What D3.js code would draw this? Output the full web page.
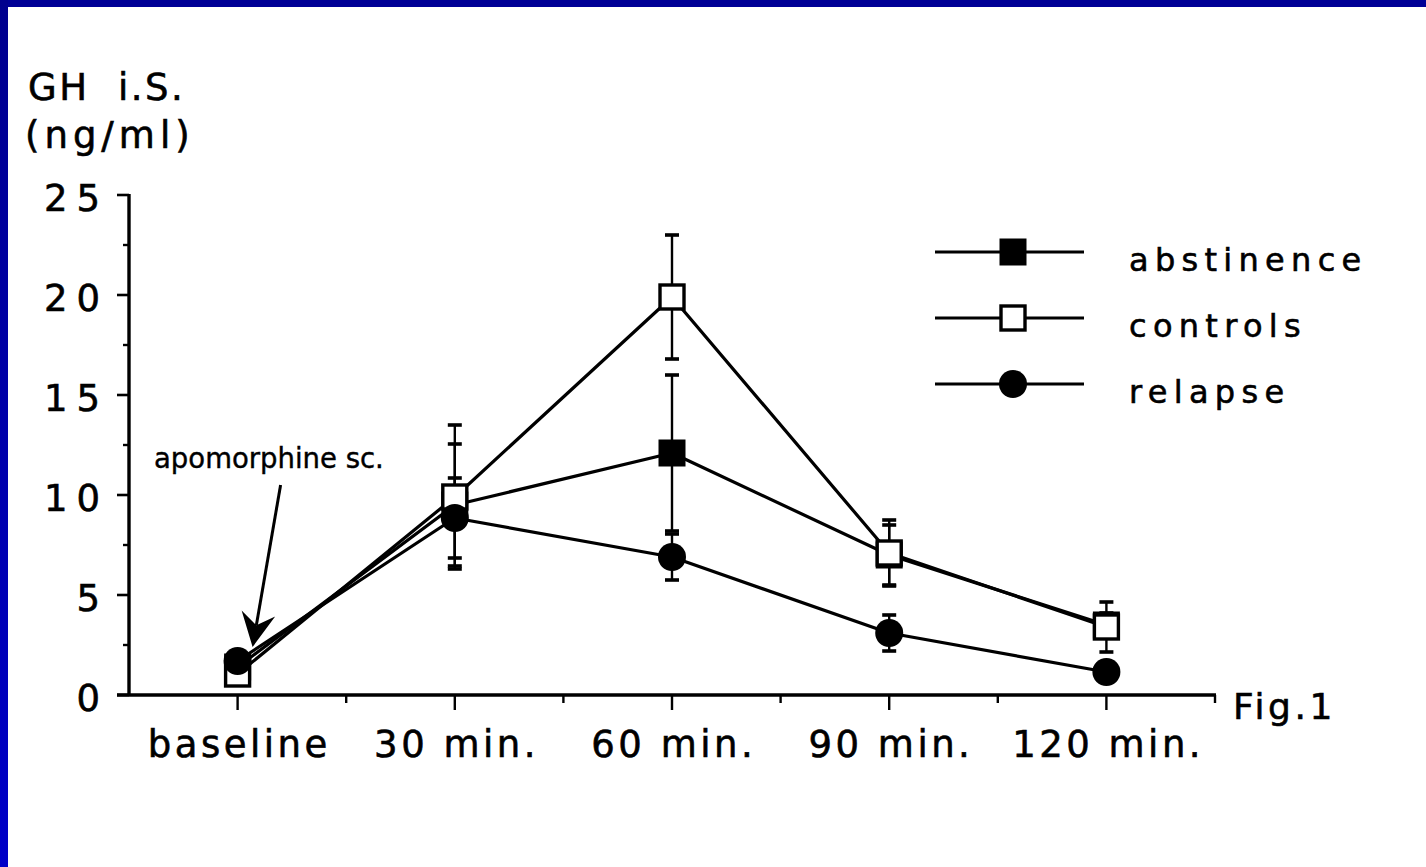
<!DOCTYPE html>
<html>
<head>
<meta charset="utf-8">
<script src="https://cdn.jsdelivr.net/npm/d3@7"></script>
<style>
  html, body { margin: 0; padding: 0; background: #fff; }
  svg { display: block; }
  text { font-family: "DejaVu Sans", "Liberation Sans", sans-serif; fill: #000; stroke: #000; stroke-width: 0.6px; }
</style>
</head>
<body>
<script>
// ---------- data ----------
const categories = ["baseline", "30 min.", "60 min.", "90 min.", "120 min."];
const minutes = [0, 30, 60, 90, 120];
const abstinence = [1.4, 9.5, 12.1, 7.0, 3.5];
const abstinenceErr = [0.3, 3.05, 3.9, 1.5, 0.6];
const controls = [1.05, 9.9, 19.9, 7.1, 3.4];
const controlsErr = [0.3, 3.6, 3.1, 1.65, 1.25];
const relapse = [1.7, 8.85, 6.9, 3.1, 1.15];
const relapseErr = [0.3, 2.0, 1.15, 0.9, 0.3];
const seriesNames = ["abstinence", "controls", "relapse"];
const yTicks = [0, 5, 10, 15, 20, 25];
const yMinorTicks = [2.5, 7.5, 12.5, 17.5, 22.5];
const xAllTicks = [-15, 0, 15, 30, 45, 60, 75, 90, 105, 120, 135];
const yTitle = ["GH  i.S.", "(ng/ml)"];
const annotation = "apomorphine sc.";
const figLabel = "Fig.1";

// ---------- setup ----------
const W = 1426, H = 867;
const svg = d3.select("body").append("svg").attr("width", W).attr("height", H);

const defs = svg.append("defs");
const grad = defs.append("linearGradient").attr("id", "leftBand")
  .attr("x1", 0).attr("y1", 0).attr("x2", 0).attr("y2", 1);
grad.append("stop").attr("offset", "0%").attr("stop-color", "#00008e");
grad.append("stop").attr("offset", "100%").attr("stop-color", "#0000c8");

svg.append("rect").attr("width", W).attr("height", H).attr("fill", "#fff");
svg.append("rect").attr("x", 0).attr("y", 0).attr("width", W).attr("height", 7).attr("fill", "#000096");
svg.append("rect").attr("x", 0).attr("y", 0).attr("width", 8).attr("height", H).attr("fill", "url(#leftBand)");

const x = d3.scaleLinear().domain([-15, 135]).range([129, 1215]);
const y = d3.scaleLinear().domain([0, 25]).range([695, 195]);

const AX = 3.4;     // axis stroke
// ---------- axes ----------
const xAxisG = svg.append("g").attr("transform", `translate(0,${y(0)})`);
xAxisG.append("line").attr("x1", x(-15) - 12).attr("x2", x(135) + 1)
  .attr("stroke", "#000").attr("stroke-width", AX);
xAxisG.selectAll("line.xt").data(xAllTicks.filter(d => d > -15)).join("line")
  .attr("class", "xt")
  .attr("x1", d => x(d)).attr("x2", d => x(d))
  .attr("y1", 0).attr("y2", d => minutes.includes(d) ? 15 : 8)
  .attr("stroke", "#000").attr("stroke-width", 2.4);
const XLS = 3.5;
xAxisG.selectAll("text.xl").data(categories).join("text")
  .attr("class", "xl")
  .attr("x", (d, i) => x(minutes[i]) + XLS / 2)
  .attr("y", 62)
  .attr("text-anchor", "middle")
  .attr("font-size", 37)
  .attr("letter-spacing", XLS)
  .text(d => d);

const yAxisG = svg.append("g").attr("transform", `translate(${x(-15)},0)`);
yAxisG.append("line").attr("y1", y(0)).attr("y2", y(25) - 1)
  .attr("stroke", "#000").attr("stroke-width", AX);
yAxisG.selectAll("line.ymaj").data(yTicks).join("line")
  .attr("class", "ymaj")
  .attr("x1", -12).attr("x2", 0).attr("y1", d => y(d)).attr("y2", d => y(d))
  .attr("stroke", "#000").attr("stroke-width", 2.6);
yAxisG.selectAll("line.ymin").data(yMinorTicks).join("line")
  .attr("class", "ymin")
  .attr("x1", -6).attr("x2", 0).attr("y1", d => y(d)).attr("y2", d => y(d))
  .attr("stroke", "#000").attr("stroke-width", 2.4);
const YLS = 9;
yAxisG.selectAll("text.yl").data(yTicks).join("text")
  .attr("class", "yl")
  .attr("x", -29 + YLS)
  .attr("y", d => y(d) + 16)
  .attr("text-anchor", "end")
  .attr("font-size", 37)
  .attr("letter-spacing", YLS)
  .text(d => d);

// axis title
svg.append("text").attr("x", 28).attr("y", 100).attr("font-size", 37)
  .attr("letter-spacing", 2.5).style("white-space", "pre").text(yTitle[0]);
svg.append("text").attr("x", 25).attr("y", 148).attr("font-size", 37)
  .attr("letter-spacing", 5).text(yTitle[1]);

// Fig label
svg.append("text").attr("x", 1233).attr("y", 719).attr("font-size", 36)
  .attr("letter-spacing", 3.5).text(figLabel);

// ---------- series ----------
const seriesData = [
  { name: seriesNames[0], vals: abstinence, err: abstinenceErr, shape: "fsq" },
  { name: seriesNames[1], vals: controls, err: controlsErr, shape: "osq" },
  { name: seriesNames[2], vals: relapse, err: relapseErr, shape: "circ" }
];

const line = d3.line().x(d => x(d.m)).y(d => y(d.v));
const plot = svg.append("g");

seriesData.forEach(s => {
  const pts = s.vals.map((v, i) => ({ m: minutes[i], v }));
  plot.append("path").datum(pts).attr("d", line)
    .attr("fill", "none").attr("stroke", "#000").attr("stroke-width", 3.2)
    .attr("stroke-linejoin", "round");
});

// error bars
seriesData.forEach(s => {
  const pts = s.vals.map((v, i) => ({ m: minutes[i], v, e: s.err[i] }));
  const g = plot.append("g");
  g.selectAll("line.eb").data(pts).join("line").attr("class", "eb")
    .attr("x1", d => x(d.m)).attr("x2", d => x(d.m))
    .attr("y1", d => y(d.v + d.e)).attr("y2", d => y(d.v - d.e))
    .attr("stroke", "#000").attr("stroke-width", 2.4);
  ["+", "-"].forEach(sign => {
    g.selectAll("line.cap" + (sign === "+" ? "u" : "d")).data(pts).join("line")
      .attr("class", "cap" + (sign === "+" ? "u" : "d"))
      .attr("x1", d => x(d.m) - 7).attr("x2", d => x(d.m) + 7)
      .attr("y1", d => y(sign === "+" ? d.v + d.e : d.v - d.e))
      .attr("y2", d => y(sign === "+" ? d.v + d.e : d.v - d.e))
      .attr("stroke", "#000").attr("stroke-width", 3.6);
  });
});

function drawMarker(g, shape, cx, cy) {
  if (shape === "fsq") {
    g.append("rect").attr("x", cx - 13.5).attr("y", cy - 13.5).attr("width", 27).attr("height", 27)
      .attr("fill", "#000");
  } else if (shape === "osq") {
    g.append("rect").attr("x", cx - 12).attr("y", cy - 12).attr("width", 24).attr("height", 24)
      .attr("fill", "#fff").attr("stroke", "#000").attr("stroke-width", 3.4);
  } else {
    g.append("circle").attr("cx", cx).attr("cy", cy).attr("r", 14).attr("fill", "#000");
  }
}

seriesData.forEach(s => {
  const g = plot.append("g");
  s.vals.forEach((v, i) => drawMarker(g, s.shape, x(minutes[i]), y(v)));
});

// ---------- legend ----------
const legend = svg.append("g");
const legRows = [252, 318, 384];
seriesData.forEach((s, i) => {
  const ly = legRows[i];
  legend.append("line").attr("x1", 935).attr("x2", 1084).attr("y1", ly).attr("y2", ly)
    .attr("stroke", "#000").attr("stroke-width", 2.8);
  drawMarker(legend, s.shape, 1013, ly);
  legend.append("text").attr("x", 1129).attr("y", ly + 19).attr("font-size", 32)
    .attr("letter-spacing", 6.3).text(s.name);
});

// ---------- annotation ----------
svg.append("text").attr("x", 154).attr("y", 468).attr("font-size", 27.5)
  .style("stroke-width", "0.4px").text(annotation);
const tip = [x(minutes[0]) + 15, y(relapse[0]) - 14];
const start = [tip[0] + 28, tip[1] - 162];
const dx = tip[0] - start[0], dy = tip[1] - start[1];
const len = Math.hypot(dx, dy);
const u = [dx / len, dy / len], n = [-u[1], u[0]];
const headL = 34, headW = 17, notch = 22;
const base = [tip[0] - headL * u[0], tip[1] - headL * u[1]];
svg.append("line").attr("x1", start[0]).attr("y1", start[1])
  .attr("x2", tip[0] - notch * u[0]).attr("y2", tip[1] - notch * u[1])
  .attr("stroke", "#000").attr("stroke-width", 3);
svg.append("path").attr("d", d3.line()([
  tip,
  [base[0] + headW * n[0], base[1] + headW * n[1]],
  [tip[0] - notch * u[0], tip[1] - notch * u[1]],
  [base[0] - headW * n[0], base[1] - headW * n[1]]
]) + "Z").attr("fill", "#000");
</script>
</body>
</html>
